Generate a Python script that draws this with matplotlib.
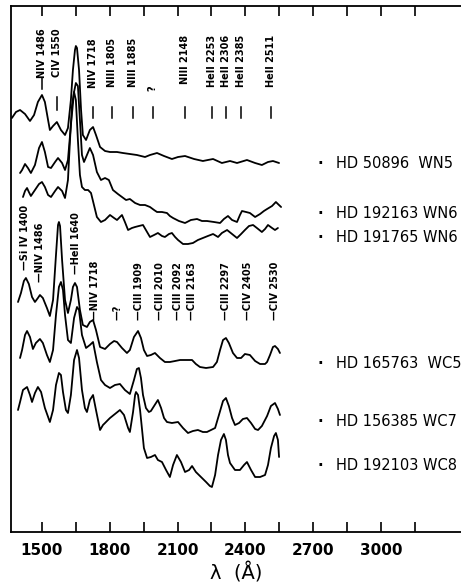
import matplotlib
matplotlib.use("Agg")
import matplotlib.pyplot as plt

# wavelength (Angstrom) and flux (arbitrary units, spectra shifted vertically)
wn5_wave = [1367, 1385, 1403, 1425, 1447, 1465, 1482, 1500, 1513, 1527, 1535, 1549, 1566, 1584,
            1602, 1615, 1628, 1637, 1646, 1650, 1655, 1664, 1673, 1681, 1695, 1712, 1726, 1739,
            1757, 1779, 1801, 1832, 1858, 1889, 1920, 1956, 1978, 2009, 2040, 2075, 2102, 2133,
            2173, 2212, 2234, 2257, 2296, 2332, 2363, 2407, 2443, 2473, 2500, 2522, 2549]
wn5_flux = [414, 420, 422, 418, 411, 417, 430, 437, 430, 412, 402, 406, 410, 402,
            397, 404, 432, 462, 482, 486, 484, 462, 422, 397, 392, 402, 405, 397,
            385, 381, 380, 380, 379, 378, 377, 375, 377, 379, 376, 373, 375, 376,
            373, 371, 372, 373, 369, 371, 369, 372, 369, 367, 370, 371, 369]

wn6a_wave = [1403, 1412, 1425, 1438, 1451, 1469, 1487, 1500, 1513, 1527, 1540, 1558, 1571, 1589,
             1602, 1615, 1628, 1642, 1650, 1659, 1668, 1677, 1686, 1699, 1712, 1726, 1743, 1761,
             1779, 1796, 1814, 1836, 1854, 1872, 1889, 1912, 1934, 1956, 1978, 1996, 2009, 2031,
             2053, 2066, 2080, 2106, 2133, 2159, 2186, 2208, 2230, 2261, 2288, 2305, 2323, 2341,
             2363, 2376, 2385, 2403, 2420, 2443, 2465, 2482, 2496, 2518, 2535, 2544, 2558]
wn6a_flux = [359, 362, 368, 364, 359, 367, 384, 390, 380, 365, 364, 370, 374, 369,
             362, 372, 407, 440, 449, 446, 412, 377, 370, 377, 384, 377, 360, 352,
             354, 352, 342, 338, 335, 332, 333, 329, 327, 327, 325, 322, 320, 320,
             319, 316, 314, 311, 309, 312, 313, 311, 311, 310, 309, 313, 316, 312,
             310, 317, 321, 320, 319, 315, 318, 321, 323, 326, 330, 328, 325]

wn6b_wave = [1416, 1425, 1434, 1442, 1451, 1469, 1487, 1500, 1513, 1527, 1540, 1558, 1571, 1589,
             1602, 1615, 1624, 1633, 1642, 1650, 1659, 1668, 1677, 1690, 1704, 1717, 1730, 1743,
             1761, 1779, 1801, 1819, 1832, 1845, 1854, 1867, 1881, 1898, 1912, 1929, 1947, 1965,
             1978, 1996, 2013, 2031, 2044, 2062, 2075, 2089, 2102, 2124, 2146, 2168, 2190, 2212,
             2234, 2257, 2279, 2296, 2319, 2341, 2363, 2381, 2398, 2416, 2434, 2451, 2473, 2487,
             2500, 2518, 2531, 2544]
wn6b_flux = [335, 341, 344, 340, 336, 342, 348, 350, 345, 337, 335, 341, 345, 341,
             334, 352, 392, 427, 440, 432, 392, 357, 345, 342, 342, 339, 327, 315,
             310, 312, 317, 314, 312, 315, 317, 310, 302, 304, 305, 306, 307, 300,
             295, 297, 299, 296, 295, 298, 299, 295, 292, 288, 288, 289, 292, 294,
             296, 298, 295, 299, 302, 298, 294, 298, 302, 306, 307, 304, 300, 303,
             307, 304, 302, 304]

wc5_wave = [1394, 1407, 1420, 1429, 1442, 1456, 1469, 1482, 1491, 1504, 1522, 1535, 1549, 1562,
            1571, 1575, 1580, 1589, 1602, 1615, 1628, 1637, 1646, 1655, 1668, 1681, 1699, 1712,
            1726, 1739, 1757, 1779, 1801, 1819, 1832, 1854, 1876, 1889, 1907, 1925, 1938, 1951,
            1965, 1982, 2000, 2022, 2044, 2066, 2089, 2111, 2137, 2164, 2181, 2199, 2226, 2257,
            2274, 2288, 2301, 2314, 2327, 2345, 2363, 2381, 2398, 2420, 2443, 2465, 2487, 2496,
            2509, 2522, 2531, 2544, 2553]
wc5_flux = [230, 239, 251, 254, 248, 235, 230, 234, 237, 234, 224, 216, 232, 277,
            307, 310, 306, 272, 232, 219, 232, 245, 249, 245, 222, 207, 205, 210,
            212, 202, 185, 183, 188, 191, 190, 184, 179, 182, 195, 201, 194, 182,
            176, 177, 179, 174, 170, 170, 171, 172, 172, 172, 168, 165, 164, 165,
            170, 182, 192, 194, 189, 179, 174, 174, 178, 177, 171, 168, 168, 170,
            177, 185, 186, 183, 179]

wc7_wave = [1403, 1412, 1425, 1434, 1447, 1460, 1473, 1491, 1504, 1522, 1535, 1549, 1562, 1575,
            1584, 1593, 1602, 1615, 1628, 1642, 1655, 1664, 1677, 1695, 1712, 1726, 1743, 1761,
            1779, 1801, 1823, 1845, 1867, 1889, 1907, 1920, 1929, 1938, 1947, 1960, 1973, 1982,
            1996, 2013, 2027, 2040, 2053, 2075, 2102, 2124, 2146, 2168, 2190, 2212, 2230, 2248,
            2266, 2283, 2301, 2314, 2327, 2341, 2354, 2372, 2389, 2407, 2425, 2443, 2456, 2473,
            2496, 2513, 2531, 2544, 2553]
wc7_flux = [174, 182, 197, 201, 195, 183, 189, 193, 189, 177, 170, 182, 217, 245,
            250, 242, 217, 192, 189, 214, 225, 222, 197, 184, 187, 190, 170, 152,
            147, 144, 147, 148, 142, 138, 152, 163, 164, 154, 137, 124, 120, 121,
            126, 132, 124, 114, 110, 109, 110, 104, 99, 101, 102, 100, 100, 102,
            104, 117, 131, 134, 126, 114, 107, 109, 113, 114, 109, 103, 102, 106,
            116, 126, 129, 123, 117]

wc8_wave = [1394, 1403, 1416, 1434, 1447, 1456, 1469, 1482, 1496, 1513, 1535, 1549, 1562, 1575,
            1584, 1593, 1606, 1615, 1628, 1642, 1655, 1664, 1677, 1690, 1699, 1712, 1726, 1739,
            1757, 1770, 1779, 1792, 1801, 1823, 1845, 1863, 1881, 1889, 1903, 1912, 1916, 1925,
            1934, 1943, 1951, 1965, 1982, 2000, 2013, 2031, 2049, 2066, 2080, 2097, 2115, 2133,
            2151, 2164, 2181, 2208, 2226, 2243, 2252, 2266, 2279, 2292, 2305, 2314, 2323, 2332,
            2354, 2376, 2394, 2407, 2425, 2443, 2465, 2487, 2500, 2513, 2527, 2535, 2544, 2549]
wc8_flux = [122, 130, 142, 145, 137, 130, 139, 145, 140, 124, 110, 122, 147, 159,
            157, 140, 122, 119, 137, 172, 182, 174, 142, 124, 120, 132, 137, 122,
            102, 107, 109, 112, 114, 118, 122, 117, 104, 100, 120, 137, 140, 137,
            122, 102, 84, 74, 75, 77, 72, 70, 62, 55, 67, 77, 70, 60,
            62, 66, 60, 54, 50, 46, 45, 57, 77, 92, 98, 92, 77, 69,
            62, 62, 67, 70, 62, 55, 55, 57, 67, 84, 96, 99, 92, 75]

stars = ["HD 50896  WN5", "HD 192163 WN6", "HD 191765 WN6",
         "HD 165763  WC5", "HD 156385 WC7", "HD 192103 WC8"]

wn_lines = ["NIV 1486", "CIV 1550", "NIV 1718", "NIII 1805", "NIII 1885", "?",
            "NIII 2148", "HeII 2253", "HeII 2306", "HeII 2385", "HeII 2511"]
wn_line_wave = [1498, 1568, 1726, 1812, 1902, 1990, 2133, 2252, 2314, 2381, 2513]

wc_lines = ["Si IV 1400", "NIV 1486", "HeII 1640", "NIV 1718", "?", "CIII 1909",
            "CIII 2010", "CIII 2092", "CIII 2163", "CIII 2297", "CIV 2405", "CIV 2530"]
wc_line_wave = [1425, 1491, 1650, 1735, 1832, 1929, 2022, 2102, 2164, 2314, 2412, 2531]

ticks = [1500, 1650, 1800, 1950, 2100, 2250, 2400, 2550, 2700, 2850, 3000, 3150]

# layout: where the labels sit
star_label_y = [369, 319, 295, 169, 110, 67]
wn_text_top = [504, 504, 494, 494, 494, 447, 497, 497, 497, 497, 497]
wn_bar = [(443, 454), (422, 435)] + [(414, 425)] * 9
wc_text_bottom = [262, 250, 258] + [212] * 9

spectra = [(wn5_wave, wn5_flux), (wn6a_wave, wn6a_flux), (wn6b_wave, wn6b_flux),
           (wc5_wave, wc5_flux), (wc7_wave, wc7_flux), (wc8_wave, wc8_flux)]

narrow = ["Liberation Sans Narrow", "DejaVu Sans"]

fig = plt.figure(figsize=(4.61, 5.86), dpi=100)
ax = fig.add_axes([11 / 461, 54 / 586, 450 / 461, 526 / 586])

for w, f in spectra:
    ax.plot(w, f, color="black", lw=1.3, solid_joinstyle="round", solid_capstyle="round")

for name, w, top, (b0, b1) in zip(wn_lines, wn_line_wave, wn_text_top, wn_bar):
    ax.text(w, top, name, rotation=90, ha="center", va="top", fontsize=7, fontweight="bold")
    ax.plot([w, w], [b0, b1], color="black", lw=1.1)

for name, w, bot in zip(wc_lines, wc_line_wave, wc_text_bottom):
    ax.text(w, bot, "\u2014" + name, rotation=90, ha="center", va="bottom",
            fontsize=7, fontweight="bold")

for name, y in zip(stars, star_label_y):
    ax.text(2730, y, "\u00b7", ha="center", va="center", fontsize=11, fontweight="bold")
    ax.text(2801, y, name, ha="left", va="center", fontsize=10.5)

ax.set_xlim(1363, 3354)
ax.set_ylim(0, 526)
ax.set_xticks(ticks)
ax.set_xticklabels([str(t) if t % 300 == 0 else "" for t in ticks], family=narrow,
                   fontsize=11, fontweight="bold")
ax.set_yticks([])
ax.tick_params(axis="x", direction="in", length=7.5, width=1.2, top=True, pad=8)
ax.spines["right"].set_visible(False)
for s in ["left", "top", "bottom"]:
    ax.spines[s].set_linewidth(1.3)
ax.set_xlabel("\u03bb  (\u00c5)", fontsize=14, labelpad=3)

fig.savefig("out.png", dpi=100)
